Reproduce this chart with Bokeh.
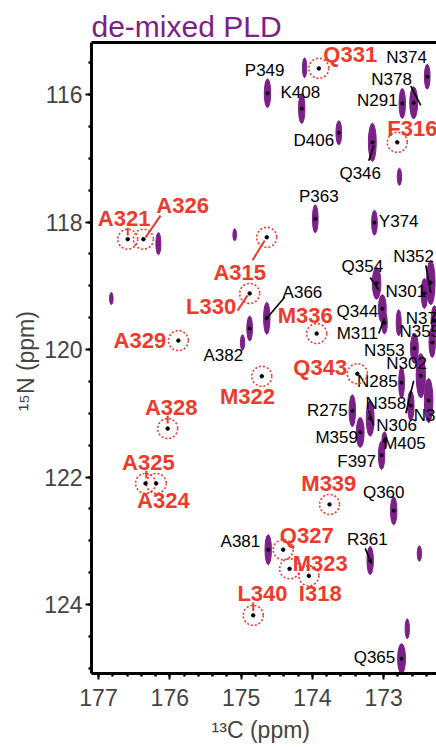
import numpy as np
from bokeh.plotting import figure
from bokeh.models import Range1d, FixedTicker, LinearAxis, ColumnDataSource
from bokeh.core.properties import value
from bokeh.embed import file_html
from bokeh.resources import INLINE

FONT = "Liberation Sans"
PURPLE = "#7B2087"
RED = "#EE3A2C"

# ---------------- data ----------------
# observed (purple) peaks: 13C ppm, 15N ppm, line widths (ppm)
peak_label = ["", "P349", "K408", "N374", "N378", "N291", "D406", "Q346", "", "P363",
              "Y374", "", "", "", "A382", "", "A366", "Q354", "Q344", "M311",
              "", "N352", "N301", "N375", "N355", "N353", "N302", "N285", "N364", "N306",
              "N358", "R275", "M359", "F397", "M405", "Q360", "R361", "", "A381", "Q365", ""]
peak_c = [174.11, 174.63, 174.15, 172.39, 172.58, 172.74, 173.63, 173.16, 172.78, 173.96,
          173.13, 176.16, 175.09, 176.82, 174.88, 174.98, 174.64, 173.10, 173.02, 172.99,
          172.79, 172.34, 172.43, 172.29, 172.32, 172.57, 172.48, 172.75, 172.37, 172.62,
          173.19, 173.44, 173.33, 173.03, 172.99, 172.86, 173.19, 172.50, 174.62, 172.75, 172.67]
peak_n = [115.58, 115.98, 116.22, 115.72, 116.13, 116.14, 116.60, 116.75, 117.29, 117.95,
          118.01, 118.34, 118.20, 119.20, 119.67, 119.89, 119.51, 118.96, 119.36, 119.58,
          119.58, 118.95, 119.12, 119.55, 119.89, 119.98, 120.41, 120.52, 120.80, 120.88,
          121.08, 120.96, 121.30, 121.66, 121.43, 122.53, 123.31, 123.20, 123.14, 124.85, 124.38]
peak_wc = [.06, .09, .09, .08, .11, .09, .08, .11, .06, .08,
           .08, .07, .05, .05, .08, .06, .09, .12, .11, .08,
           .07, .12, .09, .09, .09, .11, .13, .08, .12, .09,
           .11, .09, .11, .09, .07, .09, .09, .06, .09, .11, .06]
peak_hn = [.31, .45, .47, .39, .50, .47, .38, .60, .27, .44,
           .39, .35, .19, .19, .39, .24, .50, .50, .44, .35,
           .41, .69, .47, .47, .47, .47, .69, .50, .69, .47,
           .56, .50, .47, .44, .28, .44, .44, .24, .47, .47, .31]

# black assignment labels
blab_text = ["P349", "K408", "N374", "N378", "N291", "D406", "Q346", "P363", "Y374", "A366",
             "A382", "Q354", "N352", "N301", "Q344", "M311", "N375", "N355", "N353", "N302",
             "N285", "N358", "N364", "N306", "M405", "R275", "M359", "F397", "Q360", "R361",
             "A381", "Q365"]
blab_c = [174.67, 174.17, 172.68, 172.89, 173.09, 173.98, 173.33, 173.91, 172.79, 174.14,
          175.25, 173.30, 172.58, 172.69, 173.37, 173.37, 172.69, 172.78, 172.99, 172.68,
          173.09, 172.97, 172.58, 172.82, 172.71, 173.79, 173.66, 173.38, 173.00, 173.23,
          175.01, 173.13]
blab_n = [115.62, 115.97, 115.42, 115.76, 116.09, 116.72, 117.24, 117.60, 117.99, 119.11,
          120.09, 118.70, 118.54, 119.09, 119.40, 119.75, 119.51, 119.72, 120.02, 120.22,
          120.50, 120.85, 121.04, 121.19, 121.47, 120.96, 121.38, 121.76, 122.24, 122.98,
          123.01, 124.83]
blab_align = ["center"] * 16 + ["left", "left"] + ["center"] * 4 + ["left"] + ["center"] * 9

# black leader lines (c0, n0, c1, n1)
bl_c0 = [172.62, 173.21, 174.39, 173.19, 172.41, 173.07, 172.69, 173.21, 173.26]
bl_n0 = [115.87, 117.04, 119.18, 118.87, 118.68, 119.75, 121.00, 120.96, 123.12]
bl_c1 = [172.48, 173.14, 174.64, 173.07, 172.34, 172.99, 172.58, 173.14, 173.17]
bl_n1 = [116.17, 116.80, 119.51, 119.07, 119.11, 119.51, 120.49, 121.19, 123.36]

# missing (red) residues: expected positions
miss_text = ["Q331", "F316", "A321", "A326", "A315", "L330", "A329", "M322", "M336",
             "Q343", "A328", "A325", "A324", "M339", "Q327", "M323", "I318", "L340"]
miss_c = [173.91, 172.81, 176.59, 176.37, 174.64, 174.88, 175.88, 174.71, 173.94,
          173.37, 176.03, 176.34, 176.19, 173.76, 174.41, 174.32, 174.05, 174.83]
miss_n = [115.59, 116.75, 118.27, 118.27, 118.24, 119.12, 119.86, 120.42, 119.75,
          120.38, 121.24, 122.10, 122.10, 122.43, 123.14, 123.44, 123.55, 124.17]
rlab_c = [173.47, 172.95, 176.64, 175.82, 175.02, 175.42, 176.42, 174.91, 174.10,
          173.89, 175.98, 176.30, 176.09, 173.77, 174.08, 173.89, 173.89, 174.70]
rlab_n = [115.37, 116.53, 117.95, 117.74, 118.79, 119.33, 119.86, 120.74, 119.47,
          120.28, 120.91, 121.77, 122.37, 122.10, 122.92, 123.36, 123.83, 123.83]
rlab_align = ["center", "left"] + ["center"] * 16

# red leader lines
rl_c0 = [176.13, 174.84, 175.05, 176.59, 176.03, 176.33, 174.83]
rl_n0 = [117.90, 118.60, 119.39, 118.09, 121.04, 121.90, 123.97]
rl_c1 = [176.34, 174.67, 174.91, 176.59, 176.03, 176.33, 174.83]
rl_n1 = [118.24, 118.29, 119.15, 118.21, 121.16, 122.02, 124.10]

x_ticks = [173, 174, 175, 176, 177]
x_minor = [round(v, 1) for v in np.arange(172.4, 177.01, 0.2)]
y_ticks = [116, 118, 120, 122, 124]
y_minor = [v for v in np.arange(115.5, 125.01, 0.5)]

# ---------------- figure ----------------
p = figure(width=436, height=747,
           x_range=Range1d(177.098, 172.26), y_range=Range1d(125.082, 115.184),
           output_backend="svg", toolbar_location=None,
           min_border_left=91, min_border_right=0, min_border_top=42, min_border_bottom=74,
           title="de-mixed PLD")
p.title.text_font = FONT
p.title.text_font_size = "30px"
p.title.text_font_style = "normal"
p.title.text_color = PURPLE
p.title.align = "left"
p.title.standoff = 0
p.outline_line_color = None
p.grid.visible = False

for ax in (p.xaxis[0], p.yaxis[0]):
    ax.axis_line_width = 3
    ax.major_tick_line_width = 2
    ax.major_tick_out = 6
    ax.major_tick_in = 0
    ax.minor_tick_line_width = 2.5
    ax.minor_tick_out = 3
    ax.minor_tick_in = 0
    ax.major_label_text_font = FONT
    ax.major_label_text_font_size = "23px"
    ax.axis_label_text_font = FONT
    ax.axis_label_text_font_size = "23px"
    ax.axis_label_text_font_style = "normal"

p.xaxis.ticker = FixedTicker(ticks=x_ticks, minor_ticks=x_minor)
p.yaxis.ticker = FixedTicker(ticks=y_ticks, minor_ticks=y_minor)
p.xaxis.major_label_standoff = 9
p.yaxis.major_label_standoff = 3
p.xaxis.axis_label = "¹³C  (ppm)"
p.yaxis.axis_label = "¹⁵N  (ppm)"
p.xaxis.axis_label_standoff = 8
p.yaxis.axis_label_standoff = 2

top = LinearAxis(ticker=FixedTicker(ticks=[]), axis_line_width=3,
                 major_tick_line_color=None, minor_tick_line_color=None,
                 major_label_text_font_size="0px")
p.add_layout(top, "above")

# peaks
p.ellipse(x=peak_c, y=peak_n, width=peak_wc, height=peak_hn,
          fill_color=PURPLE, line_color=PURPLE, line_width=1)
lab_idx = [i for i, t in enumerate(peak_label) if t]
p.scatter(x=[peak_c[i] for i in lab_idx], y=[peak_n[i] for i in lab_idx],
          size=3, color="black")

# black leaders & labels
p.segment(x0=bl_c0, y0=bl_n0, x1=bl_c1, y1=bl_n1, line_color="black", line_width=1.6)
src_b = ColumnDataSource(dict(x=blab_c, y=blab_n, t=blab_text, a=blab_align))
p.text(x="x", y="y", text="t", text_align="a", source=src_b, text_baseline="middle",
       text_font=value(FONT), text_font_size="17px", text_color="black")

# missing residues
p.segment(x0=rl_c0, y0=rl_n0, x1=rl_c1, y1=rl_n1, line_color=RED, line_width=2)
p.scatter(x=miss_c, y=miss_n, marker="circle", size=20, fill_color=None,
          line_color=RED, line_dash="2 2", line_width=1.6)
p.scatter(x=miss_c, y=miss_n, size=3.5, color="black")
src_r = ColumnDataSource(dict(x=rlab_c, y=rlab_n, t=miss_text, a=rlab_align))
p.text(x="x", y="y", text="t", text_align="a", source=src_r, text_baseline="middle",
       text_font=value(FONT), text_font_size="22px", text_font_style="bold", text_color=RED)

open("out.html", "w").write(file_html(p, INLINE))
